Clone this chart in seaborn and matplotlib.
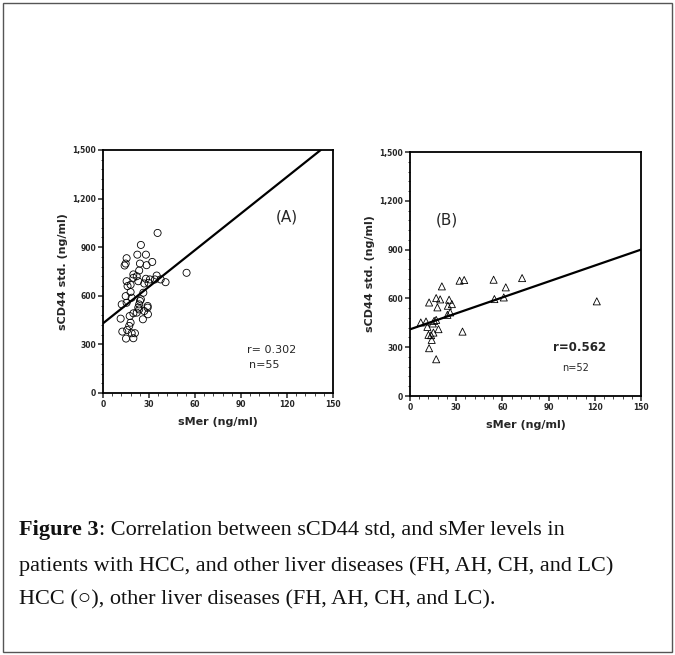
import numpy as np
import pandas as pd
import matplotlib
matplotlib.use("Agg")
import matplotlib.pyplot as plt
import seaborn as sns
from matplotlib.patches import Rectangle

# ---------------------------------------------------------------------------
# data
# ---------------------------------------------------------------------------
# (A) HCC, circles
hcc_smer = [35.6, 24.7, 15.4, 14.8, 14.1, 22.4, 28.0, 32.1, 24.1, 28.4,
            23.6, 19.8, 19.8, 15.4, 18.0, 23.0, 28.0, 30.6, 26.9, 29.7,
            35.0, 37.6, 40.8, 33.9, 54.5, 18.0, 18.7, 15.4, 12.2, 24.1,
            23.6, 29.1, 29.1, 23.6, 26.9, 19.8, 22.0, 17.4, 29.3, 26.0,
            11.5, 18.0, 17.1, 15.8, 12.6, 18.7, 20.8, 15.0, 19.8, 23.0,
            26.3, 24.7, 14.8, 22.0, 16.0]
hcc_cd44 = [988, 914, 832, 799, 787, 854, 854, 809, 799, 789,
            756, 732, 711, 690, 668, 690, 705, 701, 676, 680,
            725, 701, 684, 701, 742, 623, 588, 557, 547, 568,
            547, 537, 527, 516, 506, 492, 496, 475, 486, 455,
            459, 434, 414, 389, 379, 369, 369, 336, 338, 527,
            619, 578, 598, 721, 660]

# (B) other liver diseases, triangles
old_smer = [20.7, 32.2, 35.2, 54.3, 72.8, 62.2, 54.8, 60.9, 121.3, 12.4,
            17.0, 19.6, 17.8, 25.4, 27.2, 24.6, 26.1, 24.3, 7.0, 10.4,
            15.7, 17.0, 11.3, 14.8, 18.5, 12.0, 15.2, 14.1, 12.4, 17.0,
            34.1, 13.7]
old_cd44 = [674, 709, 713, 715, 725, 668, 596, 606, 582, 575,
            602, 594, 545, 592, 565, 555, 514, 499, 452, 458,
            462, 468, 425, 446, 411, 376, 390, 345, 294, 226,
            396, 374]

# fitted lines (end points as drawn)
fit_a_x = [0, 142]
fit_a_y = [430, 1500]
fit_b_x = [0, 150]
fit_b_y = [410, 900]

x_ticks = [0, 30, 60, 90, 120, 150]
y_ticks = [0, 300, 600, 900, 1200, 1500]
y_ticklabels = ["0", "300", "600", "900", "1,200", "1,500"]

caption_bold = "Figure 3"
caption_rest = ": Correlation between sCD44 std, and sMer levels in"
caption_l2 = "patients with HCC, and other liver diseases (FH, AH, CH, and LC)"
caption_l3 = "HCC (\u25cb), other liver diseases (FH, AH, CH, and LC)."

# ---------------------------------------------------------------------------
sns.set_style("ticks")
plt.rcParams["font.family"] = ["DejaVu Sans"]

fig = plt.figure(figsize=(6.75, 6.55), dpi=100)
fig.patches.append(Rectangle((0.004, 0.004), 0.992, 0.992, transform=fig.transFigure,
                             fill=False, edgecolor="#555555", linewidth=1.0))

ax_a = fig.add_axes([0.1526, 0.400, 0.3407, 0.371])
ax_b = fig.add_axes([0.6074, 0.3954, 0.3422, 0.3725])


def style_axis(ax):
    ax.set_xlim(0, 150)
    ax.set_ylim(0, 1500)
    ax.set_xticks(x_ticks)
    ax.set_xticklabels([str(t) for t in x_ticks], fontsize=5.5, fontweight="bold")
    ax.set_yticks(y_ticks)
    ax.set_yticklabels(y_ticklabels, fontsize=5.5, fontweight="bold")
    ax.set_xticks(np.arange(0, 151, 6), minor=True)
    ax.set_yticks(np.arange(0, 1501, 60), minor=True)
    ax.tick_params(which="major", direction="out", length=3.5, width=1.1, pad=1.5)
    ax.tick_params(which="minor", direction="out", length=1.8, width=0.6)
    for sp in ax.spines.values():
        sp.set_visible(True)
        sp.set_linewidth(1.3)
        sp.set_color("black")
    ax.set_xlabel("sMer (ng/ml)", fontsize=8, fontweight="bold", labelpad=6)
    ax.set_ylabel("sCD44 std. (ng/ml)", fontsize=8, fontweight="bold", labelpad=3)


# panel A
sns.scatterplot(x=hcc_smer, y=hcc_cd44, ax=ax_a, marker="o", s=26,
                facecolor="none", edgecolor="black", linewidth=0.6)
sns.lineplot(x=fit_a_x, y=fit_a_y, ax=ax_a, color="black", linewidth=1.6)
style_axis(ax_a)
ax_a.text(120, 1086, "(A)", fontsize=11, ha="center", va="center")
ax_a.text(94, 265, "r= 0.302", fontsize=8, ha="left", va="center")
ax_a.text(95, 173, "n=55", fontsize=8, ha="left", va="center")

# panel B
sns.scatterplot(x=old_smer, y=old_cd44, ax=ax_b, marker="^", s=26,
                facecolor="none", edgecolor="black", linewidth=0.6)
sns.lineplot(x=fit_b_x, y=fit_b_y, ax=ax_b, color="black", linewidth=1.6)
style_axis(ax_b)
ax_b.text(24, 1082, "(B)", fontsize=11, ha="center", va="center")
ax_b.text(93, 301, "r=0.562", fontsize=8.5, fontweight="bold", ha="left", va="center")
ax_b.text(99, 172, "n=52", fontsize=7, ha="left", va="center")

# caption
serif = ["Liberation Serif", "DejaVu Serif"]
cap_fs = 16
t = fig.text(19 / 675, 1 - 530 / 655, caption_bold, fontsize=cap_fs, fontweight="bold",
             family=serif, ha="left", va="center", color="#111111")
fig.canvas.draw()
bb = t.get_window_extent()
fig.text(bb.x1 / fig.bbox.width, 1 - 530 / 655, caption_rest, fontsize=cap_fs,
         family=serif, ha="left", va="center", color="#111111")
fig.text(19 / 675, 1 - 566 / 655, caption_l2, fontsize=cap_fs, family=serif,
         ha="left", va="center", color="#111111")
fig.text(19 / 675, 1 - 600 / 655, caption_l3, fontsize=cap_fs,
         family=["Liberation Serif", "DejaVu Sans"], ha="left", va="center", color="#111111")

fig.savefig("out.png", dpi=100)
